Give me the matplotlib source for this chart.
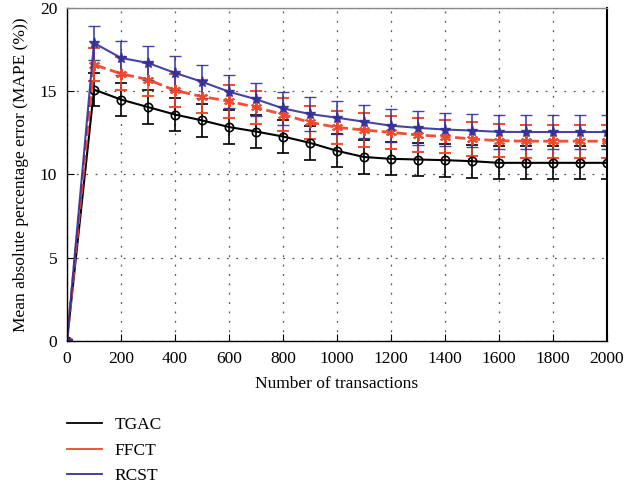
import numpy as np
import matplotlib.pyplot as plt
from matplotlib.lines import Line2D

plt.rcParams['font.family'] = ['Liberation Serif', 'DejaVu Serif']

transactions = [0, 100, 200, 300, 400, 500, 600, 700, 800, 900, 1000,
                1100, 1200, 1300, 1400, 1500, 1600, 1700, 1800, 1900, 2000]
tgac = [0, 15.1, 14.5, 14.05, 13.6, 13.25, 12.85, 12.58, 12.28, 11.9, 11.42,
        11.05, 10.94, 10.9, 10.86, 10.8, 10.7, 10.7, 10.7, 10.7, 10.7]
ffct = [0, 16.6, 16.05, 15.7, 15.05, 14.68, 14.4, 14.03, 13.6, 13.13, 12.83,
        12.67, 12.53, 12.37, 12.28, 12.13, 12.03, 12.0, 12.0, 12.0, 12.0]
rcst = [0, 17.9, 17.0, 16.7, 16.1, 15.57, 14.97, 14.52, 13.97, 13.63, 13.41,
        13.17, 12.93, 12.8, 12.7, 12.64, 12.56, 12.55, 12.55, 12.55, 12.55]
tgac_err = [0] + [1.0] * 20
ffct_err = [0] + [1.0] * 20
rcst_err = [0] + [1.0] * 20

names = ['TGAC', 'FFCT', 'RCST']
colors = ['black', '#f0462a', '#33309a']

fig = plt.figure(figsize=(6.41, 4.87), dpi=100)
ax = fig.add_axes([0.1045, 0.2998, 0.8425, 0.6838])

ax.errorbar(transactions, tgac, yerr=tgac_err, color=colors[0], lw=1.5,
            marker='o', ms=6, mfc='none', mew=1.2, capsize=4.5, elinewidth=1.2)
ax.errorbar(transactions, ffct, yerr=ffct_err, color=colors[1], lw=2.0, ls='--',
            marker=(6, 2, 0), ms=8, mew=1.5, capsize=4.5, elinewidth=1.2,
            ecolor=colors[1], alpha=0.95)
ax.errorbar(transactions, rcst, yerr=rcst_err, color=colors[2], lw=1.5,
            marker='*', ms=8, capsize=4.5, elinewidth=1.2, alpha=0.9)

ax.set_xlim(0, 2000)
ax.set_ylim(0, 20)
ax.set_xticks(np.arange(0, 2001, 200))
ax.set_yticks([0, 5, 10, 15, 20])
ax.grid(True, ls=(0, (1.5, 6)), color='#555555', lw=0.9)
ax.tick_params(direction='in', labelsize=12.5, top=False, right=False, length=5)
ax.tick_params(axis='x', pad=7)
ax.tick_params(axis='y', pad=7)
for s in ax.spines.values():
    s.set_linewidth(1.0)
ax.spines['right'].set_linewidth(1.5)
ax.spines['top'].set_color('#888888')

ax.set_xlabel('Number of transactions', fontsize=12.5, labelpad=7)
ax.set_ylabel('Mean absolute percentage error (MAPE (%))', fontsize=12.5,
              labelpad=8)

handles = [Line2D([], [], color=c, lw=1.3) for c in colors]
fig.legend(handles, names, loc='upper left', bbox_to_anchor=(0.08, 0.176),
           frameon=False, fontsize=12.5, handlelength=2.0, handletextpad=0.75,
           labelspacing=0.55)

fig.savefig('out.png', dpi=100)
